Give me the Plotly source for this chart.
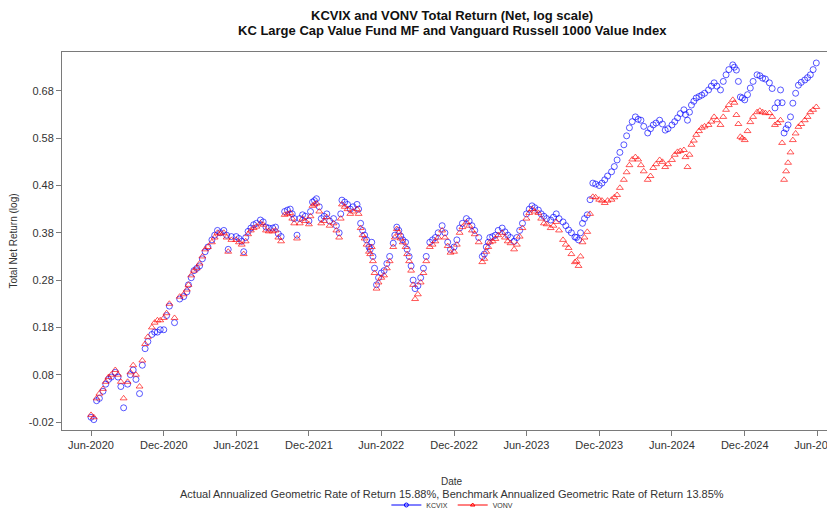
import plotly.graph_objects as go

# ---- data ----
# readings around the 1st / 15th of each month (plus visible spikes)
dates = [
    "2020-06-01", "2020-06-08", "2020-06-15", "2020-07-01", "2020-07-15", "2020-08-01", "2020-08-15",
    "2020-08-22", "2020-09-01", "2020-09-15", "2020-10-01", "2020-10-15", "2020-11-01", "2020-11-15",
    "2020-12-01", "2020-12-15", "2020-12-28", "2021-01-10", "2021-01-20", "2021-02-01", "2021-02-15",
    "2021-03-01", "2021-03-15", "2021-04-01", "2021-04-15", "2021-05-01", "2021-05-12", "2021-05-20",
    "2021-06-01", "2021-06-15", "2021-06-20", "2021-07-01", "2021-07-15", "2021-08-01", "2021-08-15",
    "2021-09-01", "2021-09-15", "2021-10-01", "2021-10-15", "2021-10-25", "2021-11-01", "2021-11-15",
    "2021-12-01", "2021-12-10", "2021-12-20", "2022-01-01", "2022-01-15", "2022-02-01", "2022-02-15",
    "2022-02-22", "2022-03-01", "2022-03-15", "2022-04-01", "2022-04-10", "2022-04-20", "2022-05-01",
    "2022-05-08", "2022-05-15", "2022-05-20",
    "2022-06-01", "2022-06-15", "2022-07-01", "2022-07-10", "2022-07-20", "2022-08-01", "2022-08-10",
    "2022-08-20", "2022-08-25", "2022-09-01", "2022-09-15", "2022-10-01", "2022-10-15", "2022-11-01",
    "2022-11-15", "2022-12-01", "2022-12-15", "2023-01-01", "2023-01-15", "2023-02-01", "2023-02-10",
    "2023-02-20", "2023-03-01", "2023-03-15", "2023-04-01", "2023-04-15", "2023-05-01", "2023-05-15",
    "2023-06-01", "2023-06-15", "2023-07-01", "2023-07-15", "2023-08-01", "2023-08-15", "2023-09-01",
    "2023-09-15", "2023-10-01", "2023-10-10", "2023-10-20", "2023-11-01", "2023-11-15", "2023-12-01",
    "2023-12-15", "2024-01-01", "2024-01-15", "2024-02-01", "2024-02-15", "2024-03-01", "2024-03-15",
    "2024-04-01", "2024-04-15", "2024-05-01", "2024-05-15",
    "2024-06-01", "2024-06-15", "2024-07-01", "2024-07-10", "2024-07-20", "2024-08-01", "2024-08-15",
    "2024-09-01", "2024-09-15", "2024-10-01", "2024-10-15", "2024-11-01", "2024-11-10", "2024-11-20",
    "2024-12-01", "2024-12-15", "2025-01-01", "2025-01-15", "2025-02-01", "2025-02-15", "2025-03-01",
    "2025-03-10", "2025-03-20", "2025-04-01", "2025-04-15", "2025-05-01", "2025-05-15", "2025-05-30",
]

kcvix = [
    -0.010, -0.015, 0.025, 0.045, 0.070, 0.085, 0.055,
    0.010, 0.060, 0.090, 0.040, 0.135, 0.165, 0.170,
    0.175, 0.225, 0.190, 0.240, 0.245, 0.270, 0.300,
    0.310, 0.340, 0.365, 0.385, 0.385, 0.345, 0.372,
    0.372, 0.362, 0.340, 0.383, 0.397, 0.407, 0.392,
    0.390, 0.378, 0.425, 0.430, 0.410, 0.375, 0.418,
    0.405, 0.445, 0.452, 0.410, 0.420, 0.410, 0.380,
    0.449, 0.445, 0.430, 0.440, 0.400, 0.375, 0.350,
    0.360, 0.305, 0.270,
    0.295, 0.315, 0.358, 0.392, 0.373, 0.360, 0.330,
    0.280, 0.262, 0.268, 0.305, 0.360, 0.370, 0.395,
    0.360, 0.350, 0.390, 0.410, 0.395, 0.370, 0.330,
    0.350, 0.370, 0.375, 0.390, 0.375, 0.362, 0.385,
    0.420, 0.437, 0.428, 0.415, 0.407, 0.420, 0.403,
    0.386, 0.371, 0.365, 0.400, 0.418, 0.485, 0.480,
    0.492, 0.509, 0.534, 0.566, 0.602, 0.625, 0.618,
    0.591, 0.608, 0.618, 0.597,
    0.608, 0.623, 0.640, 0.618, 0.650, 0.665, 0.671,
    0.682, 0.697, 0.682, 0.714, 0.735, 0.724, 0.667,
    0.661, 0.686, 0.714, 0.707, 0.697, 0.644, 0.682,
    0.591, 0.608, 0.654, 0.692, 0.703, 0.714, 0.739,
]

vonv = [
    -0.005, -0.010, 0.030, 0.050, 0.075, 0.090, 0.065,
    0.030, 0.065, 0.100, 0.055, 0.145, 0.180, 0.195,
    0.200, 0.230, 0.200, 0.245, 0.250, 0.270, 0.300,
    0.315, 0.345, 0.360, 0.380, 0.380, 0.340, 0.365,
    0.365, 0.355, 0.335, 0.377, 0.390, 0.400, 0.385,
    0.383, 0.370, 0.418, 0.422, 0.400, 0.368, 0.410,
    0.398, 0.437, 0.442, 0.400, 0.413, 0.400, 0.370,
    0.440, 0.435, 0.420, 0.430, 0.390, 0.368, 0.340,
    0.350, 0.295, 0.262,
    0.285, 0.305, 0.350, 0.388, 0.368, 0.350, 0.320,
    0.270, 0.240, 0.250, 0.295, 0.350, 0.362, 0.385,
    0.352, 0.340, 0.380, 0.402, 0.385, 0.360, 0.318,
    0.340, 0.360, 0.367, 0.380, 0.362, 0.345, 0.372,
    0.410, 0.430, 0.422, 0.400, 0.390, 0.403, 0.365,
    0.348, 0.318, 0.310, 0.360, 0.382, 0.456, 0.450,
    0.443, 0.450, 0.460, 0.492, 0.523, 0.540, 0.523,
    0.492, 0.517, 0.534, 0.519,
    0.534, 0.551, 0.555, 0.519, 0.566, 0.587, 0.602,
    0.608, 0.625, 0.608, 0.640, 0.661, 0.629, 0.583,
    0.576, 0.614, 0.635, 0.635, 0.633, 0.608, 0.618,
    0.492, 0.528, 0.576, 0.604, 0.618, 0.635, 0.646,
]

# additional readings in between (around the 8th / 22nd of each month)
dates_mid = [
    "2020-06-22", "2020-07-08", "2020-07-22", "2020-08-08", "2020-09-08", "2020-09-22", "2020-10-08",
    "2020-10-22", "2020-11-08", "2020-11-22", "2020-12-08", "2021-01-28", "2021-02-08", "2021-02-22",
    "2021-03-08", "2021-03-22", "2021-04-08", "2021-04-22", "2021-05-08",
    "2021-06-08", "2021-06-25", "2021-07-08", "2021-07-22", "2021-08-08", "2021-08-22", "2021-09-08",
    "2021-09-22", "2021-10-08", "2021-10-20", "2021-11-08", "2021-11-22", "2021-12-05", "2021-12-15",
    "2021-12-27", "2022-01-08", "2022-01-22", "2022-02-08", "2022-02-19", "2022-03-08", "2022-03-22",
    "2022-04-05", "2022-04-15", "2022-04-25", "2022-05-04", "2022-05-11", "2022-05-25",
    "2022-06-08", "2022-06-22", "2022-07-05", "2022-07-15", "2022-07-25", "2022-08-05", "2022-08-15",
    "2022-09-08", "2022-09-22", "2022-10-08", "2022-10-22", "2022-11-08", "2022-11-22", "2022-12-08",
    "2022-12-22", "2023-01-08", "2023-01-22", "2023-02-15", "2023-02-25", "2023-03-08", "2023-03-22",
    "2023-04-08", "2023-04-22", "2023-05-08", "2023-05-22",
    "2023-06-08", "2023-06-22", "2023-07-08", "2023-07-22", "2023-08-08", "2023-08-22", "2023-09-08",
    "2023-09-22", "2023-10-05", "2023-10-15", "2023-10-25", "2023-11-08", "2023-11-22", "2023-12-08",
    "2023-12-22", "2024-01-08", "2024-01-22", "2024-02-08", "2024-02-22", "2024-03-08", "2024-03-22",
    "2024-04-08", "2024-04-22", "2024-05-08", "2024-05-22",
    "2024-06-08", "2024-06-22", "2024-07-05", "2024-07-15", "2024-07-26", "2024-08-08", "2024-08-22",
    "2024-09-08", "2024-09-22", "2024-10-08", "2024-10-22", "2024-11-05", "2024-11-15", "2024-11-25",
    "2024-12-08", "2024-12-22", "2025-01-08", "2025-01-22", "2025-02-08", "2025-02-22", "2025-03-05",
    "2025-03-15", "2025-03-26", "2025-04-08", "2025-04-22", "2025-05-08", "2025-05-22",
]

kcvix_mid = [
    0.030, 0.060, 0.075, 0.075, 0.080, 0.070, 0.100,
    0.150, 0.170, 0.175, 0.205, 0.255, 0.285, 0.305,
    0.325, 0.350, 0.375, 0.380, 0.375,
    0.368, 0.370, 0.390, 0.400, 0.403, 0.390, 0.392,
    0.372, 0.428, 0.420, 0.410, 0.415, 0.425, 0.448,
    0.435, 0.415, 0.405, 0.395, 0.420, 0.440, 0.435,
    0.430, 0.385, 0.365, 0.345, 0.330, 0.285,
    0.300, 0.330, 0.375, 0.385, 0.365, 0.345, 0.310,
    0.285, 0.330, 0.365, 0.380, 0.380, 0.345, 0.365,
    0.400, 0.405, 0.385, 0.335, 0.360, 0.372, 0.385,
    0.382, 0.370, 0.370, 0.400,
    0.430, 0.433, 0.420, 0.410, 0.413, 0.410, 0.395,
    0.380, 0.370, 0.380, 0.410, 0.450, 0.483, 0.485,
    0.500, 0.520, 0.550, 0.585, 0.615, 0.620, 0.605,
    0.600, 0.612, 0.610, 0.600,
    0.615, 0.632, 0.630, 0.635, 0.658, 0.668, 0.675,
    0.690, 0.690, 0.700, 0.725, 0.730, 0.700, 0.665,
    0.672, 0.700, 0.712, 0.705, 0.685, 0.655, 0.655,
    0.600, 0.625, 0.675, 0.698, 0.708, 0.725,
]

vonv_mid = [
    0.040, 0.065, 0.080, 0.080, 0.085, 0.080, 0.110,
    0.160, 0.190, 0.195, 0.210, 0.260, 0.290, 0.305,
    0.330, 0.350, 0.370, 0.378, 0.370,
    0.360, 0.362, 0.385, 0.393, 0.397, 0.383, 0.385,
    0.362, 0.420, 0.410, 0.400, 0.405, 0.415, 0.440,
    0.425, 0.405, 0.395, 0.385, 0.410, 0.430, 0.425,
    0.420, 0.375, 0.355, 0.335, 0.320, 0.275,
    0.290, 0.320, 0.370, 0.380, 0.360, 0.335, 0.300,
    0.275, 0.320, 0.355, 0.370, 0.370, 0.338, 0.355,
    0.392, 0.395, 0.377, 0.325, 0.350, 0.362, 0.375,
    0.370, 0.358, 0.355, 0.390,
    0.422, 0.425, 0.410, 0.398, 0.395, 0.385, 0.355,
    0.335, 0.320, 0.330, 0.370, 0.420, 0.455, 0.448,
    0.448, 0.455, 0.475, 0.508, 0.535, 0.535, 0.510,
    0.500, 0.525, 0.530, 0.525,
    0.545, 0.553, 0.540, 0.545, 0.575, 0.595, 0.605,
    0.615, 0.618, 0.625, 0.650, 0.655, 0.610, 0.580,
    0.595, 0.625, 0.638, 0.633, 0.625, 0.612, 0.570,
    0.510, 0.550, 0.590, 0.610, 0.625, 0.640,
]

xtick_vals = ["2020-06-01", "2020-12-01", "2021-06-01", "2021-12-01", "2022-06-01", "2022-12-01",
              "2023-06-01", "2023-12-01", "2024-06-01", "2024-12-01", "2025-06-01"]
xtick_text = ["Jun-2020", "Dec-2020", "Jun-2021", "Dec-2021", "Jun-2022", "Dec-2022",
              "Jun-2023", "Dec-2023", "Jun-2024", "Dec-2024", "Jun-2025"]
ytick_vals = [-0.02, 0.08, 0.18, 0.28, 0.38, 0.48, 0.58, 0.68]
ytick_text = ["-0.02", "0.08", "0.18", "0.28", "0.38", "0.48", "0.58", "0.68"]

BLUE = "rgba(0,0,255,0.65)"
RED = "rgba(255,0,0,0.65)"
FONT = "Liberation Sans, Arial, sans-serif"

all_dates = dates + dates_mid
all_kcvix = kcvix + kcvix_mid
all_vonv = vonv + vonv_mid

fig = go.Figure()
fig.add_trace(go.Scatter(x=all_dates, y=all_kcvix, mode="markers", name="KCVIX", showlegend=False,
                         marker=dict(symbol="circle-open", size=6, color=BLUE, line=dict(width=1, color=BLUE))))
fig.add_trace(go.Scatter(x=all_dates, y=all_vonv, mode="markers", name="VONV", showlegend=False,
                         marker=dict(symbol="triangle-up-open", size=6, color=RED, line=dict(width=1, color=RED))))
# legend entries (line + marker glyph like the reference)
fig.add_trace(go.Scatter(x=[None], y=[None], mode="lines+markers", name="KCVIX",
                         line=dict(color="blue", width=1),
                         marker=dict(symbol="circle-open", size=4, color="blue")))
fig.add_trace(go.Scatter(x=[None], y=[None], mode="lines+markers", name="VONV",
                         line=dict(color="red", width=1),
                         marker=dict(symbol="triangle-up-open", size=4, color="red")))

# The page body adds an 8px offset; plot area ends at the window edge, the figure runs a bit past it
PLOT_H = 502 - 44 - 80  # plot height in px

fig.update_layout(
    width=835, height=502,
    margin=dict(l=54, r=8, t=44, b=80, autoexpand=False),
    paper_bgcolor="white", plot_bgcolor="white",
    font=dict(family=FONT, color="#333333", size=11),
    showlegend=True,
    legend=dict(orientation="h", x=0.505, xanchor="center", y=-75 / PLOT_H, yanchor="middle",
                font=dict(size=7, color="#333333"), itemwidth=30, tracegroupgap=0,
                bgcolor="rgba(0,0,0,0)"),
    annotations=[
        dict(text="<b>KCVIX and VONV Total Return (Net, log scale)</b>",
             xref="paper", yref="paper", x=0.505, y=1 + 36 / PLOT_H, xanchor="center", yanchor="middle",
             showarrow=False, font=dict(size=13, color="#111111", family=FONT)),
        dict(text="<b>KC Large Cap Value Fund MF and Vanguard Russell 1000 Value Index</b>",
             xref="paper", yref="paper", x=0.505, y=1 + 21 / PLOT_H, xanchor="center", yanchor="middle",
             showarrow=False, font=dict(size=13, color="#111111", family=FONT)),
        dict(text="Date", xref="paper", yref="paper", x=0.505, y=-51 / PLOT_H, xanchor="center", yanchor="middle",
             showarrow=False, font=dict(size=10, color="#333333")),
        dict(text="Actual Annualized Geometric Rate of Return 15.88%, Benchmark Annualized Geometric Rate of Return 13.85%",
             xref="paper", yref="paper", x=0.505, y=-64 / PLOT_H, xanchor="center", yanchor="middle",
             showarrow=False, font=dict(size=11, color="#333333")),
    ],
)

fig.update_xaxes(
    type="date", range=["2020-03-20", "2025-07-16"],
    tickmode="array", tickvals=xtick_vals, ticktext=xtick_text,
    showgrid=False, zeroline=False,
    showline=True, linecolor="#7a7a7a", linewidth=1, mirror=True,
    ticks="outside", ticklen=5, tickcolor="#7a7a7a",
    tickfont=dict(size=11, color="#333333"),
    ticklabeloverflow="allow",
)
fig.update_yaxes(
    range=[-0.0369, 0.7622],
    tickmode="array", tickvals=ytick_vals, ticktext=ytick_text,
    showgrid=False, zeroline=False,
    showline=True, linecolor="#7a7a7a", linewidth=1,
    ticks="outside", ticklen=5, tickcolor="#7a7a7a",
    tickfont=dict(size=11, color="#333333"),
    title=dict(text="Total Net Return (log)", font=dict(size=10, color="#333333"), standoff=12),
)

fig.write_html("out.html")
